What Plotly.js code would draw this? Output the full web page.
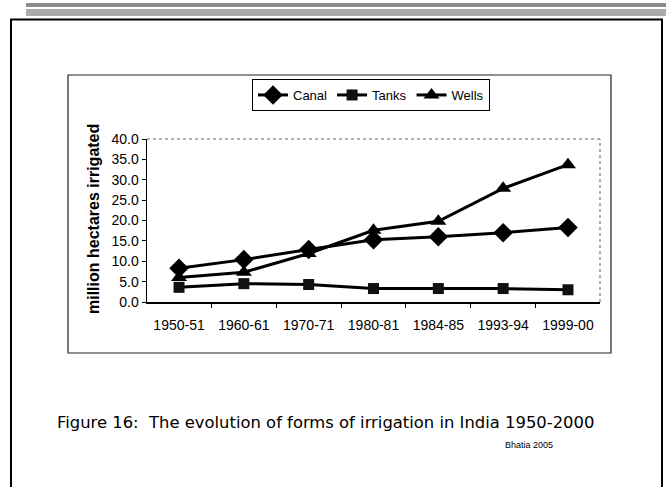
<!DOCTYPE html>
<html>
<head>
<meta charset="utf-8">
<script src="https://cdn.plot.ly/plotly-3.0.1.min.js"></script>
<style>html,body{margin:0;padding:0;background:#fff;}#chart{width:666px;height:487px;}</style>
</head>
<body>
<div id="chart"></div>
<script>
const categories = ["1950-51","1960-61","1970-71","1980-81","1984-85","1993-94","1999-00"];
const canal = [8.3, 10.4, 12.9, 15.3, 16.0, 17.0, 18.3];
const tanks = [3.6, 4.5, 4.3, 3.3, 3.3, 3.3, 3.0];
const wells = [6.0, 7.3, 11.9, 17.6, 19.8, 27.9, 33.7];
const yTicks = [0,5,10,15,20,25,30,35,40];

// pixel -> paper helpers (plot area: x 147..600, y 139..302)
const L=147, R=600, T=139, B=302;
const px = v => (v-L)/(R-L);
const py = v => (B-v)/(B-T);
const SANS = "Liberation Sans, Arial, sans-serif";

const common = {mode:"lines+markers", type:"scatter", line:{color:"#000", width:3}};
const data = [
  Object.assign({}, common, {name:"Canal", x:categories, y:canal, marker:{symbol:"diamond", size:15, color:"#000"}}),
  Object.assign({}, common, {name:"Tanks", x:categories, y:tanks, marker:{symbol:"square", size:11, color:"#111"}}),
  Object.assign({}, common, {name:"Wells", x:categories, y:wells, marker:{symbol:"triangle-up", size:14, color:"#000"}})
];

const shapes = [
  {type:"rect", xref:"paper", yref:"paper", x0:px(26), x1:px(670), y0:py(7), y1:py(3), fillcolor:"#8c8c8c", line:{width:0}},
  {type:"rect", xref:"paper", yref:"paper", x0:px(26), x1:px(670), y0:py(16), y1:py(9), fillcolor:"#ababab", line:{width:0}},
  {type:"rect", xref:"paper", yref:"paper", x0:px(11), x1:px(662), y0:py(520), y1:py(19.5), line:{color:"#000", width:2}},
  {type:"rect", xref:"paper", yref:"paper", x0:px(68), x1:px(611), y0:py(353), y1:py(75), line:{color:"#222", width:1.2}},
  {type:"line", xref:"paper", yref:"paper", x0:0, x1:1, y0:1, y1:1, line:{color:"#666", width:1, dash:"dot"}},
  {type:"line", xref:"paper", yref:"paper", x0:1, x1:1, y0:0, y1:1, line:{color:"#666", width:1, dash:"dot"}}
];

const annotations = [
  {text:"<b>million hectares irrigated</b>", xref:"paper", yref:"paper", x:px(93), xanchor:"center", y:py(219), yanchor:"middle", textangle:-90, showarrow:false, font:{family:SANS, size:16, color:"#000"}},
  {text:"Figure 16:  The evolution of forms of irrigation in India 1950-2000", xref:"paper", yref:"paper", x:px(55), xanchor:"left", y:py(422), yanchor:"middle", showarrow:false, font:{family:"DejaVu Sans, sans-serif", size:16.4, color:"#000"}},
  {text:"Bhatia 2005", xref:"paper", yref:"paper", x:px(503), xanchor:"left", y:py(445), yanchor:"middle", showarrow:false, font:{family:SANS, size:9, color:"#000"}}
];

const layout = {
  width:666, height:487,
  margin:{l:L, r:666-R, t:T, b:487-B},
  paper_bgcolor:"#fff", plot_bgcolor:"#fff",
  showlegend:true,
  legend:{orientation:"h", x:px(252), xanchor:"left", y:py(79), yanchor:"top", bordercolor:"#000", borderwidth:1, bgcolor:"#fff",
          font:{family:SANS, size:13, color:"#000"}, itemwidth:30, tracegroupgap:0},
  xaxis:{type:"category", categoryorder:"array", categoryarray:categories, showgrid:false, zeroline:false,
         showline:true, linecolor:"#000", linewidth:1.5, ticks:"outside", ticklen:4, tickcolor:"#000", tickson:"boundaries",
         ticklabelstandoff:10,
         tickfont:{family:SANS, size:14, color:"#000"}, fixedrange:true},
  yaxis:{range:[0,40], tickvals:yTicks, ticktext:yTicks.map(v=>v.toFixed(1)), showgrid:false, zeroline:false,
         showline:true, linecolor:"#000", linewidth:1.5, ticks:"outside", ticklen:4, tickcolor:"#000",
         tickfont:{family:SANS, size:14, color:"#000"}, fixedrange:true},
  shapes:shapes,
  annotations:annotations
};

Plotly.newPlot("chart", data, layout, {displayModeBar:false, staticPlot:true});
</script>
</body>
</html>
